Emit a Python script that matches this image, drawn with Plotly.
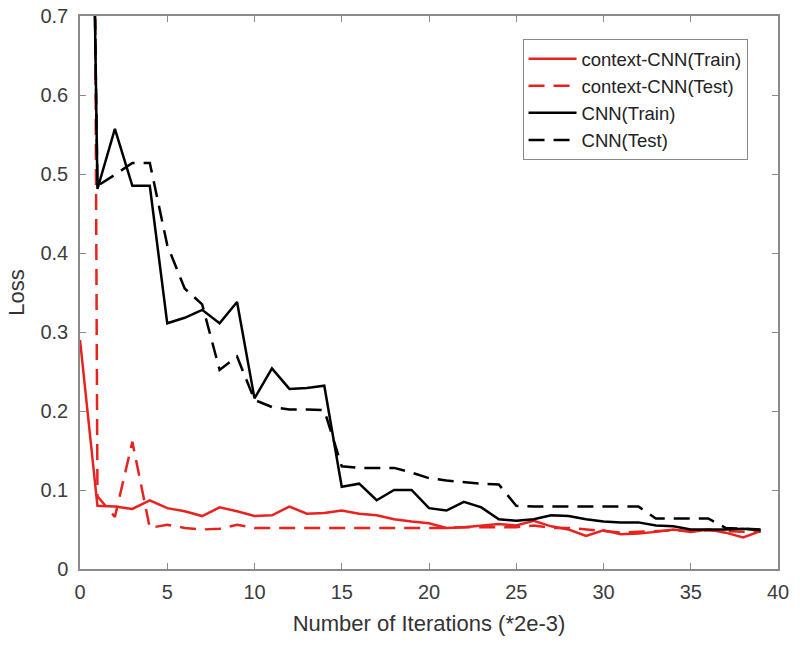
import plotly.graph_objects as go

iterations = list(range(40))

ctx_train = [0.29, 0.08, 0.079, 0.076, 0.087, 0.077, 0.073, 0.067, 0.078, 0.073,
             0.067, 0.068, 0.079, 0.07, 0.071, 0.074, 0.07, 0.068, 0.063, 0.06,
             0.058, 0.052, 0.053, 0.055, 0.057, 0.055, 0.061, 0.054, 0.05, 0.042,
             0.049, 0.044, 0.045, 0.047, 0.05, 0.047, 0.05, 0.046, 0.04, 0.048]

ctx_test = [5.0, 0.092, 0.066, 0.161, 0.052, 0.056, 0.052, 0.05, 0.051, 0.056,
            0.052, 0.052, 0.052, 0.052, 0.052, 0.052, 0.052, 0.052, 0.052, 0.052,
            0.052, 0.052, 0.053, 0.053, 0.053, 0.053, 0.055, 0.052, 0.052, 0.05,
            0.048, 0.046, 0.047, 0.048, 0.049, 0.048, 0.049, 0.048, 0.047, 0.047]

cnn_train = [2.0, 0.481, 0.557, 0.485, 0.485, 0.311, 0.318, 0.328, 0.311, 0.338,
             0.216, 0.254, 0.228, 0.229, 0.232, 0.104, 0.108, 0.087, 0.1, 0.1,
             0.077, 0.074, 0.085, 0.078, 0.063, 0.061, 0.063, 0.068, 0.067, 0.063,
             0.06, 0.059, 0.059, 0.055, 0.054, 0.05, 0.05, 0.05, 0.051, 0.049]

cnn_test = [2.0, 0.485, 0.499, 0.514, 0.514, 0.41, 0.355, 0.335, 0.252, 0.269,
            0.214, 0.205, 0.202, 0.202, 0.201, 0.13, 0.128, 0.128, 0.128, 0.122,
            0.115, 0.112, 0.11, 0.108, 0.107, 0.08, 0.079, 0.079, 0.079, 0.079,
            0.079, 0.079, 0.079, 0.064, 0.064, 0.064, 0.064, 0.052, 0.051, 0.05]

series_names = ["context-CNN(Train)", "context-CNN(Test)", "CNN(Train)", "CNN(Test)"]
x_ticks = [0, 5, 10, 15, 20, 25, 30, 35, 40]
y_ticks = [0, 0.1, 0.2, 0.3, 0.4, 0.5, 0.6, 0.7]
y_tick_text = ["0", "0.1", "0.2", "0.3", "0.4", "0.5", "0.6", "0.7"]

RED = "#e8231f"
BLACK = "#000000"
DASH = "16px,9px"
FONT = "Liberation Sans, Arial"

fig = go.Figure()
styles = [(ctx_train, RED, "solid"), (ctx_test, RED, DASH),
          (cnn_train, BLACK, "solid"), (cnn_test, BLACK, DASH)]
for name, (ys, col, dash) in zip(series_names, styles):
    fig.add_trace(go.Scatter(x=iterations, y=ys, mode="lines", name=name,
                             line=dict(color=col, width=2.5, dash=dash)))

axis_common = dict(showgrid=False, zeroline=False, showline=True, linecolor="#8a8a8a",
                   linewidth=1.5, mirror="ticks", ticks="inside", ticklen=6,
                   tickcolor="#8a8a8a", tickwidth=1.2, automargin=False,
                   ticklabeloverflow="allow",
                   tickfont=dict(family=FONT, size=20, color="#3c3c3c"))

fig.update_xaxes(range=[0, 40], tickvals=x_ticks, ticklabelstandoff=4,
                 title=dict(text="Number of Iterations (*2e-3)", standoff=14,
                            font=dict(family=FONT, size=22, color="#333333")),
                 **axis_common)
fig.update_yaxes(range=[0, 0.7], tickvals=y_ticks, ticktext=y_tick_text,
                 ticklabelstandoff=6,
                 title=dict(text="Loss", standoff=10,
                            font=dict(family=FONT, size=22, color="#333333")),
                 **axis_common)

fig.update_layout(
    width=800, height=648,
    margin=dict(l=80, r=22, t=16, b=79),
    paper_bgcolor="white", plot_bgcolor="white",
    showlegend=True,
    legend=dict(x=0.634, y=0.958, xanchor="left", yanchor="top",
                bgcolor="white", bordercolor="#8a8a8a", borderwidth=1,
                font=dict(family=FONT, size=18.5, color="#222222"),
                tracegroupgap=0, itemwidth=48),
)

fig.write_html("out.html", config={"displayModeBar": False},
               post_script="document.body.style.margin='0';document.body.style.overflow='hidden';")
